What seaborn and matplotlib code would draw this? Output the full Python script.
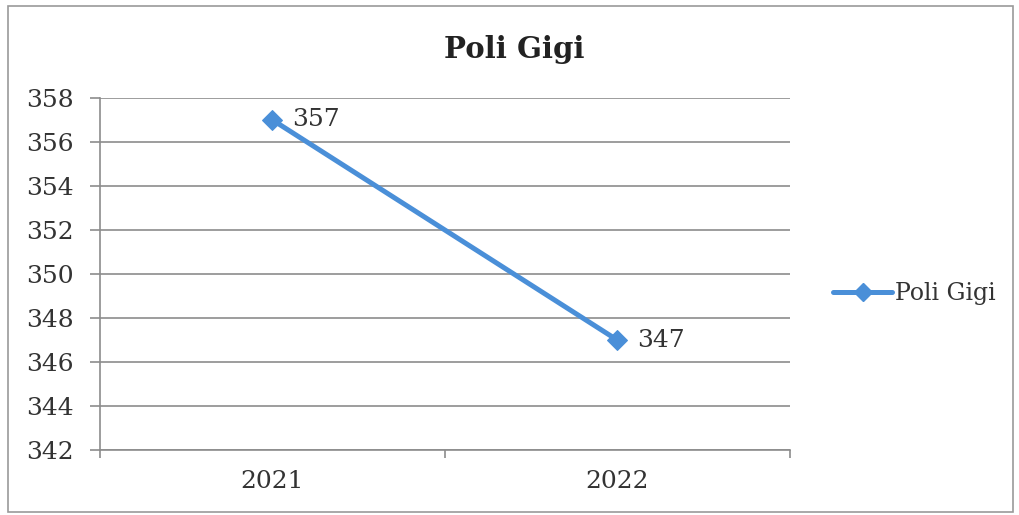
import matplotlib
matplotlib.use("Agg")
import matplotlib.pyplot as plt
import numpy as np
import pandas as pd
import seaborn as sns
from matplotlib.patches import Rectangle
from matplotlib.ticker import FixedLocator

sns.set_style("white")
plt.rcParams['font.family'] = ['DejaVu Serif']

# data
years = ["2021", "2022"]
visits = [357, 347]
series_name = "Poli Gigi"

df = pd.DataFrame({"Tahun": years, "Kunjungan": visits, "Poli": series_name})

line_col = "#4a8fd8"
grid_col = "#8c8c8c"
text_col = "#333333"

fig = plt.figure(figsize=(10.19, 5.15), dpi=100)
ax = fig.add_axes([0.098, 0.126, 0.677, 0.684])

sns.lineplot(data=df, x="Tahun", y="Kunjungan", hue="Poli", palette=[line_col],
             marker="D", markersize=10, linewidth=3.6, markeredgecolor=line_col,
             ax=ax, legend=False)

# value labels next to the points
for i, v in enumerate(visits):
    ax.annotate(str(v), (i, v), xytext=(14, 0), textcoords="offset points",
                va="center", ha="left", fontsize=18, color=text_col)

ax.set_xlim(-0.5, 1.5)
ax.set_ylim(342, 358)
ax.set_yticks(np.arange(342, 359, 2))
ax.yaxis.grid(True, color=grid_col, linewidth=1.2)
ax.set_axisbelow(True)

ax.xaxis.set_minor_locator(FixedLocator([-0.5, 0.5, 1.5]))
ax.tick_params(axis="x", which="major", length=0, pad=14, labelsize=18, labelcolor=text_col)
ax.tick_params(axis="x", which="minor", bottom=True, length=6, width=1.2,
               color=grid_col, direction="out")
ax.tick_params(axis="y", left=True, length=7, width=1.2, color=grid_col,
               direction="out", pad=12, labelsize=18, labelcolor=text_col)
ax.set_xlabel("")
ax.set_ylabel("")

for side in ["top", "right"]:
    ax.spines[side].set_visible(False)
for side in ["left", "bottom"]:
    ax.spines[side].set_color(grid_col)
    ax.spines[side].set_linewidth(1.2)

fig.text(0.505, 0.903, series_name, ha="center", va="center", fontsize=21,
         fontweight="bold", color="#222222")

handle = plt.Line2D([], [], color=line_col, linewidth=3.6, marker="D", markersize=9)
fig.legend([handle], [series_name], loc="center left", bbox_to_anchor=(0.797, 0.43),
           frameon=False, fontsize=17, handlelength=2.5, handletextpad=0.1,
           labelcolor=text_col)

# outer chart border
fig.patches.append(Rectangle((0.008, 0.006), 0.986, 0.982, transform=fig.transFigure,
                             fill=False, edgecolor="#9a9a9a", linewidth=1.2))

fig.savefig("out.png", dpi=100)
